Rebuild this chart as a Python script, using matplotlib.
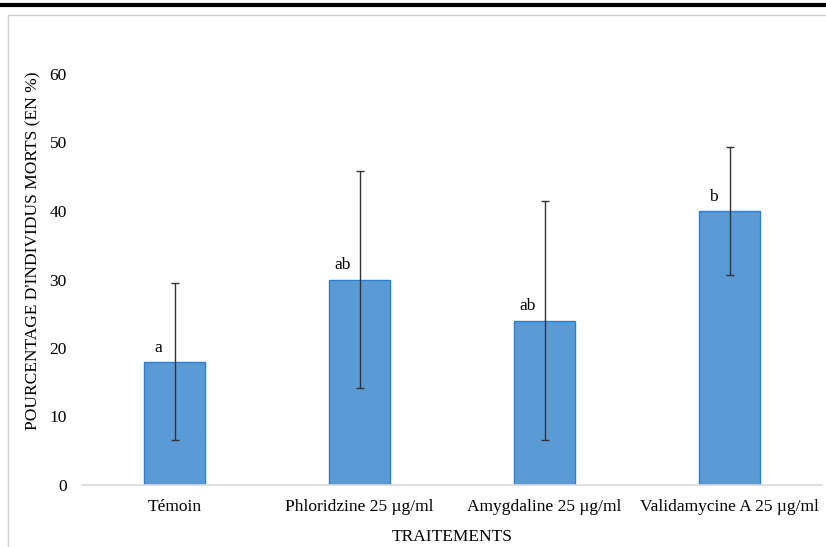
import matplotlib.pyplot as plt
from matplotlib.lines import Line2D

traitements = ["Témoin", "Phloridzine 25 µg/ml", "Amygdaline 25 µg/ml", "Validamycine A 25 µg/ml"]
mortalite = [18, 30, 24, 40]
erreur = [11.5, 15.9, 17.5, 9.4]
lettres = ["a", "ab", "ab", "b"]

plt.rcParams['font.family'] = ['Liberation Serif', 'DejaVu Serif']

fig = plt.figure(figsize=(8.26, 5.47), dpi=100)
ax = fig.add_axes([82 / 826, 62 / 547, 740 / 826, 411 / 547])

x = range(len(traitements))
ax.bar(x, mortalite, width=0.33, color='#5b9bd5', edgecolor='#2a80d2', linewidth=1.0, zorder=2)
ax.errorbar(x, mortalite, yerr=erreur, fmt='none', ecolor='#333333', elinewidth=1.0,
            capsize=3, capthick=1.0, zorder=3)
for i, (v, l) in enumerate(zip(mortalite, lettres)):
    ax.text(i - 0.09, v + 0.9, l, ha='center', va='bottom', fontsize=12.5)

ax.set_xlim(-0.5, len(traitements) - 0.5)
ax.set_ylim(0, 60)
ax.set_yticks(range(0, 61, 10))
ax.set_xticks(list(x))
ax.set_xticklabels(traitements, fontsize=12.5)
ax.tick_params(axis='y', length=0, pad=11, labelsize=12.5)
ax.tick_params(axis='x', length=0, pad=10)
for s in ['top', 'right', 'left']:
    ax.spines[s].set_visible(False)
ax.spines['bottom'].set_color('#d9d9d9')
ax.spines['bottom'].set_linewidth(1.2)

ax.set_ylabel("POURCENTAGE D'INDIVIDUS MORTS (EN %)", fontsize=12.5)
ax.yaxis.set_label_coords(-0.0545, 0.569)
ax.set_xlabel("TRAITEMENTS", fontsize=12.5, labelpad=10)

# cadre et trait du haut
fig.add_artist(Line2D([0, 1], [1 - 4.5 / 547, 1 - 4.5 / 547], color='black', linewidth=3, transform=fig.transFigure))
fig.add_artist(Line2D([8 / 826, 8 / 826, 1], [0, 1 - 14.5 / 547, 1 - 14.5 / 547], color='#d0d0d0', linewidth=1, transform=fig.transFigure))

fig.savefig('out.png', dpi=100)
